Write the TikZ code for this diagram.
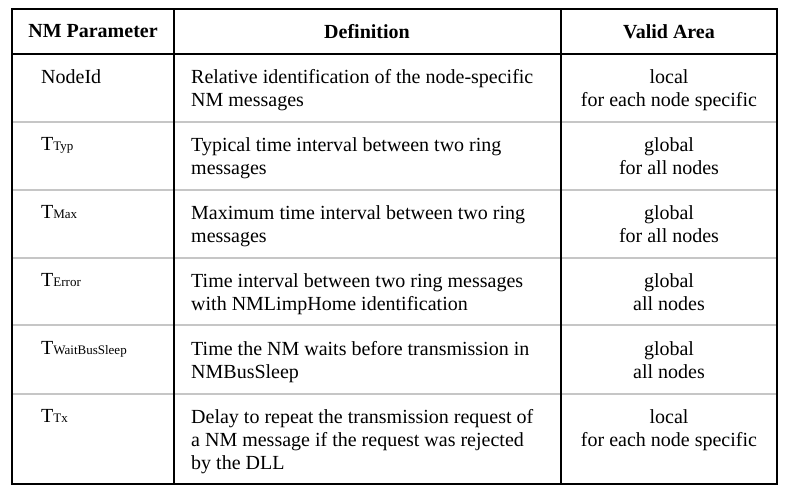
\documentclass[tikz,border=0pt]{standalone}
\usepackage{fontspec}
\setmainfont{Liberation Serif}
\begin{document}
\begin{tikzpicture}[x=1pt,y=-1pt,
  cell/.style={anchor=north west,inner sep=0,font=\fontsize{20}{23}\selectfont,align=left},
  area/.style={anchor=north,inner sep=0,font=\fontsize{20}{23}\selectfont,align=center},
  head/.style={anchor=north,inner sep=0,font=\fontsize{20}{23}\selectfont\bfseries}]
\newcommand{\sub}[1]{T{\fontsize{13}{13}\selectfont #1}}
\useasboundingbox (0,0) rectangle (793,491);

% grid
\foreach \y in {122,190,258,325,394}
  \draw[gray!45,line width=1.5pt] (12,\y) -- (777,\y);
\draw[line width=1.6pt] (12,54) -- (777,54);
\draw[line width=1.6pt] (174,9) -- (174,484);
\draw[line width=1.6pt] (561,9) -- (561,484);
\draw[line width=2pt] (12,9) rectangle (777,484);

% header
\node[head] (h1) at (93,24) {NM Parameter};
\node[head] (h2) at (367,24) {Definition};
\node[head] (h3) at (669,24) {Valid Area};

% rows
\node[cell] (p1) at (41,69) {NodeId};
\node[cell] (d1) at (191,69) {Relative identification of the node-specific\\NM messages};
\node[area] (a1) at (669,69) {local\\for each node specific};

\node[cell] (p2) at (41,137) {\sub{Typ}};
\node[cell] (d2) at (191,137) {Typical time interval between two ring\\messages};
\node[area] (a2) at (669,137) {global\\for all nodes};

\node[cell] (p3) at (41,205) {\sub{Max}};
\node[cell] (d3) at (191,205) {Maximum time interval between two ring\\messages};
\node[area] (a3) at (669,205) {global\\for all nodes};

\node[cell] (p4) at (41,273) {\sub{Error}};
\node[cell] (d4) at (191,273) {Time interval between two ring messages\\with NMLimpHome identification};
\node[area] (a4) at (669,273) {global\\all nodes};

\node[cell] (p5) at (41,341) {\sub{WaitBusSleep}};
\node[cell] (d5) at (191,341) {Time the NM waits before transmission in\\NMBusSleep};
\node[area] (a5) at (669,341) {global\\all nodes};

\node[cell] (p6) at (41,409) {\sub{Tx}};
\node[cell] (d6) at (191,409) {Delay to repeat the transmission request of\\a NM message if the request was rejected\\by the DLL};
\node[area] (a6) at (669,409) {local\\for each node specific};
\end{tikzpicture}
\end{document}
